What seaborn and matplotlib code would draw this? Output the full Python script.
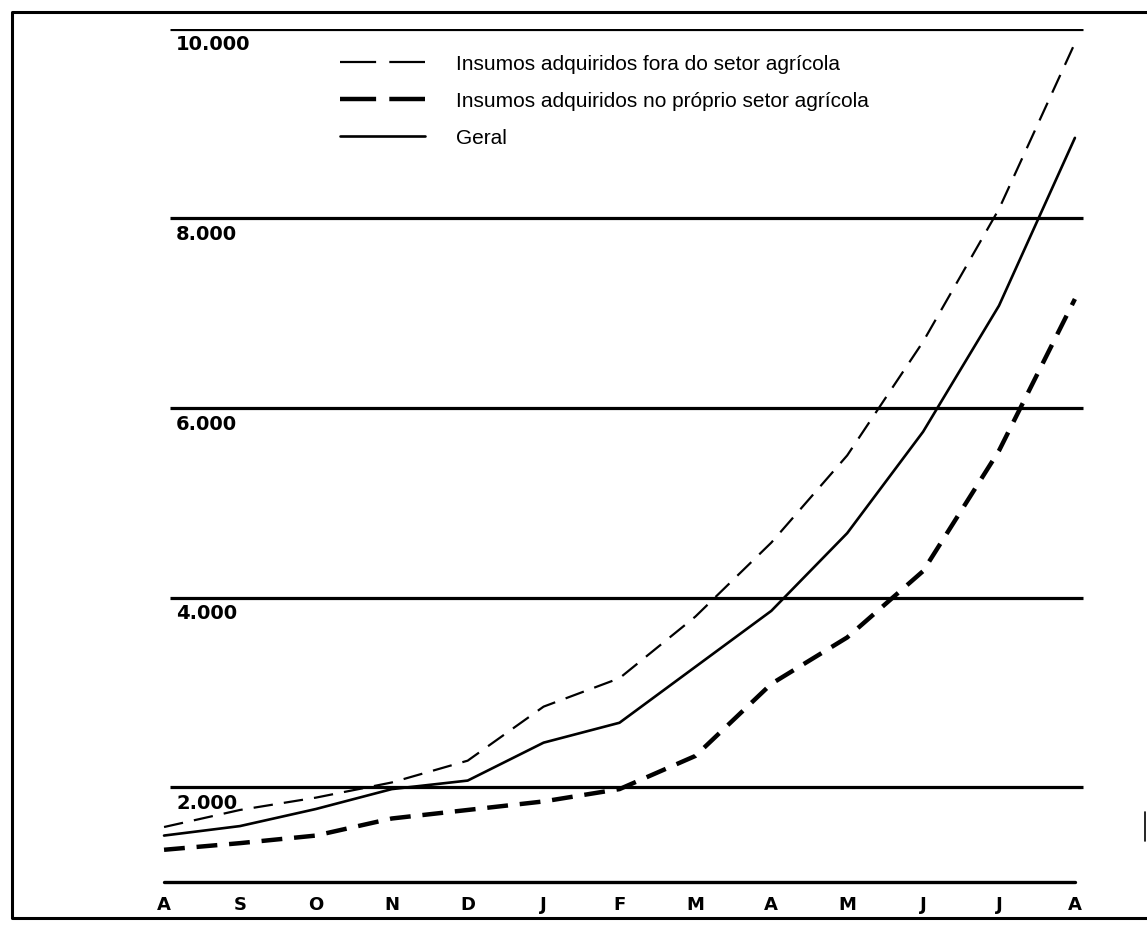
import matplotlib
matplotlib.use("Agg")
import numpy as np
import pandas as pd
import matplotlib.pyplot as plt
from matplotlib.lines import Line2D
import seaborn as sns

# Values (monthly, Aug -> Aug)
meses = ["A", "S", "O", "N", "D", "J", "F", "M", "A", "M", "J", "J", "A"]
fora = [1580, 1760, 1890, 2050, 2280, 2850, 3150, 3800, 4580, 5500, 6700, 8100, 9850]
proprio = [1340, 1410, 1490, 1670, 1760, 1850, 1980, 2330, 3090, 3580, 4280, 5550, 7150]
geral = [1490, 1590, 1770, 1980, 2070, 2470, 2680, 3270, 3860, 4680, 5750, 7080, 8850]
niveis = [2000, 4000, 6000, 8000, 10000]
rotulos_y = ["2.000", "4.000", "6.000", "8.000", "10.000"]
series = [
    "Insumos adquiridos fora do setor agrícola",
    "Insumos adquiridos no próprio setor agrícola",
    "Geral",
]

sns.set_style("white", {"axes.edgecolor": "black", "text.color": "black",
                        "xtick.color": "black", "axes.labelcolor": "black"})
plt.rcParams["font.family"] = ["Liberation Sans", "DejaVu Sans"]
plt.rcParams["lines.scale_dashes"] = False

df = pd.DataFrame({
    "pos": list(range(len(meses))) * 3,
    "valor": fora + proprio + geral,
    "serie": [s for s in series for _ in meses],
})

fig = plt.figure(figsize=(11.47, 9.29), dpi=100)
ax = fig.add_axes([0.1364, 0.0495, 0.8087, 0.9184])

# horizontal reference lines
ax.hlines(niveis, 0.08, 12.11, color="black", linewidth=2.3)

sns.lineplot(
    data=df, x="pos", y="valor", style="serie", size="serie",
    dashes={series[0]: (14, 8), series[1]: (15, 8.5), series[2]: ""},
    sizes={series[0]: 1.6, series[1]: 3.2, series[2]: 1.9},
    color="black", estimator=None, sort=False, legend=False, ax=ax,
)

for v, lab in zip(niveis, rotulos_y):
    ax.annotate(lab, (0.16, v), xytext=(0, -4), textcoords="offset points",
                ha="left", va="top", fontsize=14, fontweight="bold",
                family="DejaVu Sans", color="black")

ax.set_xlim(-0.1, 12.12)
ax.set_ylim(1000, 10000)
ax.set_xticks(range(len(meses)))
ax.set_xticklabels(meses, fontsize=13, fontweight="bold", family="DejaVu Sans",
                   color="black")
ax.set_yticks([])
ax.set_xlabel("")
ax.set_ylabel("")
ax.tick_params(axis="x", direction="out", length=4, width=2, pad=5, color="black")
for s in ["left", "right", "top"]:
    ax.spines[s].set_visible(False)
ax.spines["bottom"].set_bounds(0, 12)
ax.spines["bottom"].set_linewidth(2.4)
ax.spines["bottom"].set_color("black")
ax.spines["bottom"].set_capstyle("round")

# legend
h1 = Line2D([], [], color="black", lw=1.6, dashes=(26, 9.5))
h2 = Line2D([], [], color="black", lw=3.2, dashes=(26, 9.5))
h3 = Line2D([], [], color="black", lw=1.9)
leg = ax.legend([h1, h2, h3], series, loc="upper left",
                bbox_to_anchor=(340 / 1147, 1 - 55 / 929), bbox_transform=fig.transFigure,
                frameon=False, fontsize=15, handlelength=4.07, handletextpad=1.5,
                labelspacing=0.86, borderpad=0, borderaxespad=0)
for t in leg.get_texts():
    t.set_color("black")

# outer frame of the printed figure
fl, ft, fb = 12 / 1147, 1 - 13 / 929, 1 - 919 / 929
fig.add_artist(Line2D([1.0, fl, fl, 1.0], [ft, ft, fb, fb], color="black", lw=2.2))
fig.add_artist(Line2D([1145 / 1147, 1145 / 1147], [1 - 813 / 929, 1 - 842 / 929],
                      color="black", lw=1.2))

fig.savefig("out.png", dpi=100)
